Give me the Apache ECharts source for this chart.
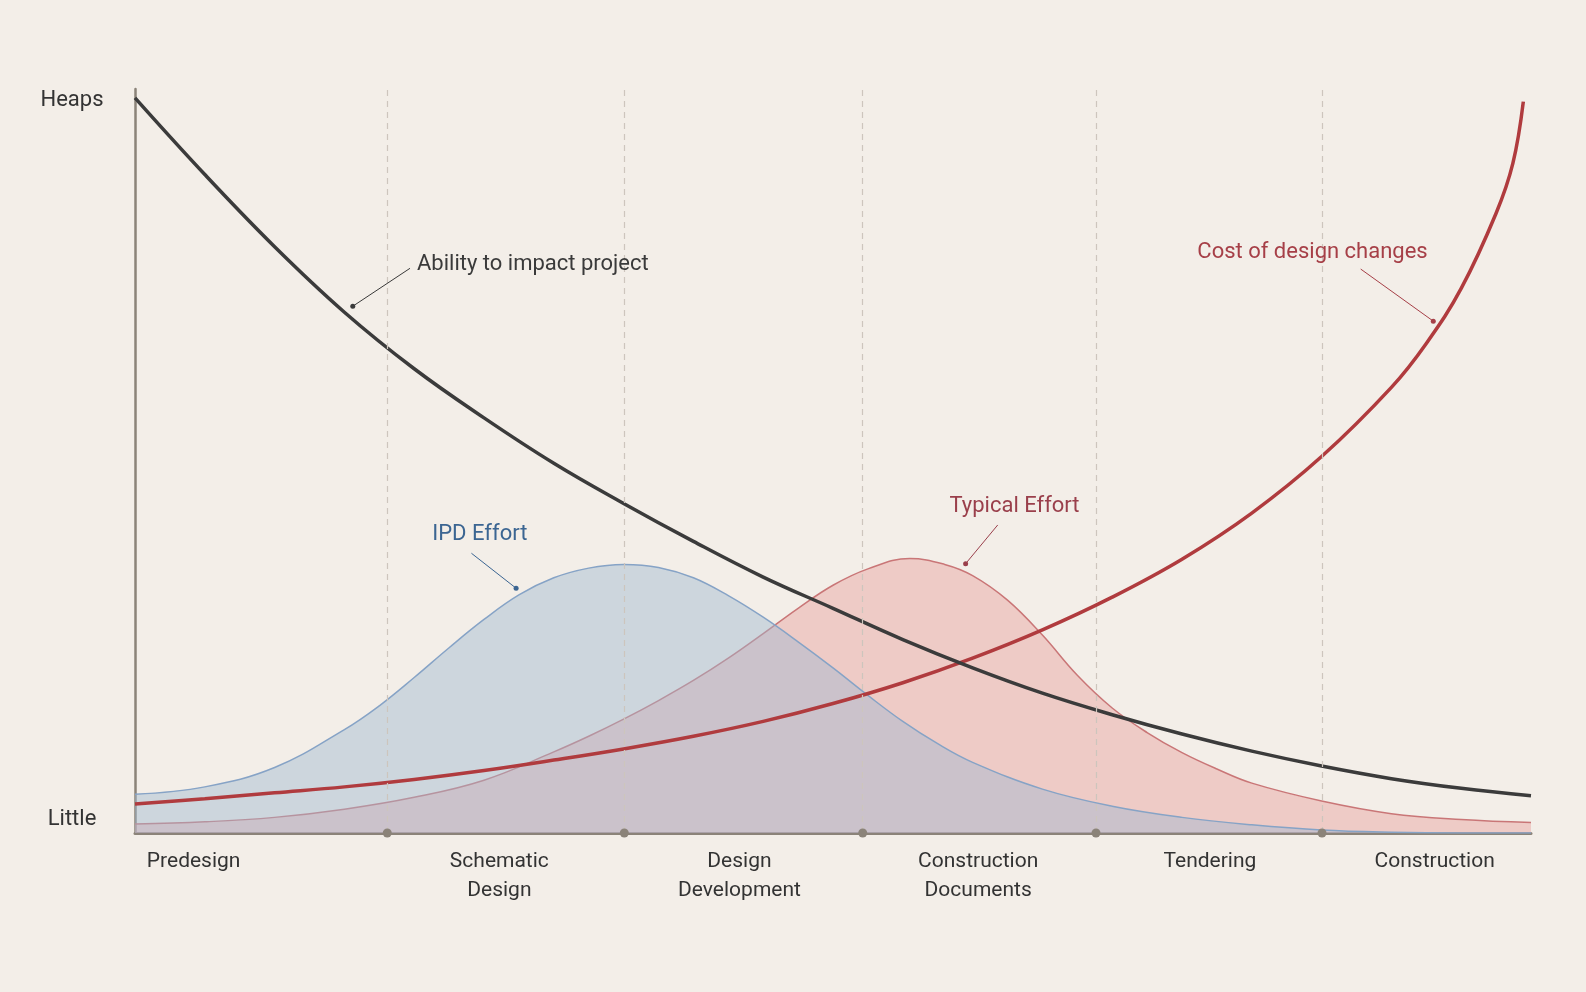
<!DOCTYPE html>
<html lang="en">
<head>
    <meta charset="UTF-8">
    <title>Ability to impact vs cost of change</title>
    <style>
        html, body { margin: 0; padding: 0; background: #f3eee8; }
        #main { width: 1586px; height: 992px; }
    </style>
</head>
<body>
<div id="main"></div>
<script src="https://cdn.jsdelivr.net/npm/echarts@6/dist/echarts.min.js"></script>
<script>
    // x runs 0..100 along the project timeline, y runs 0 (little) .. 100 (heaps)
    const phaseNames = ['Predesign', 'Schematic\nDesign', 'Design\nDevelopment', 'Construction\nDocuments', 'Tendering', 'Construction'];
    const phaseLabelAt = [4.2, 26.1, 43.3, 60.4, 77.0, 93.1];
    const phaseBounds = [18.07, 35.05, 52.13, 68.84, 85.03];
    const yTickValues = [1.8, 98.4];
    const yTickNames = ['Little', 'Heaps'];

    const ability = [[0, 98.8], [5, 88.5], [10, 78.8], [15, 70.0], [20, 62.4], [25, 55.8], [30, 49.7],
        [35, 44.3], [40, 39.2], [45, 34.4], [50, 30.2], [55, 26.0], [60, 22.2], [65, 18.8], [70, 15.9],
        [75, 13.3], [80, 11.0], [85, 9.0], [90, 7.3], [95, 6.0], [100, 5.0]];
    const cost = [[0, 3.9], [5, 4.6], [10, 5.4], [15, 6.2], [20, 7.2], [25, 8.4], [30, 9.8], [35, 11.3],
        [40, 13.0], [45, 15.0], [50, 17.4], [55, 20.2], [60, 23.5], [65, 27.3], [70, 31.7], [75, 36.8],
        [80, 43.0], [85, 50.6], [90, 59.9], [92.5, 65.8], [95, 73.2], [97.5, 83.3],
        [98.7, 90.0], [99.45, 98.3]];
    const ipd = [[0, 5.2], [5, 6.2], [10, 8.8], [15, 13.9], [17.5, 17.1], [20, 20.9], [22.5, 24.9],
        [25, 28.7], [27.5, 32.0], [30, 34.3], [32.5, 35.6], [35, 36.1], [37.5, 35.7], [40, 34.3],
        [42.5, 31.9], [45, 29.0], [47.5, 25.7], [50, 22.2], [52.5, 18.5], [55, 15.0], [57.5, 12.0],
        [60, 9.5], [65, 5.9], [70, 3.6], [75, 2.1], [80, 1.1], [85, 0.4], [90, 0.1], [95, 0], [100, 0]];
    const typical = [[0, 1.2], [5, 1.5], [10, 2.1], [15, 3.2], [20, 4.8], [25, 7.1], [30, 10.9],
        [32.5, 13.0], [35, 15.3], [37.5, 17.8], [40, 20.5], [42.5, 23.5], [45, 26.8], [47.5, 30.2],
        [50, 33.3], [52.5, 35.5], [55.5, 36.9], [58, 36.1], [60, 34.6], [62.5, 31.3], [65, 26.6],
        [67.5, 21.2], [70, 16.8], [72.5, 13.5], [75, 10.8], [77.5, 8.6], [80, 6.7], [85, 4.3],
        [90, 2.6], [95, 1.8], [100, 1.4]];

    // annotations: dot on the curve, end of the leader, text anchor
    const notes = ['Ability to impact project', 'Cost of design changes', 'IPD Effort', 'Typical Effort'];
    const noteDot = [[15.6, 70.8], [93.0, 68.8], [27.3, 32.9], [59.5, 36.2]];
    const noteTail = [[19.7, 75.9], [87.8, 75.8], [24.1, 37.6], [61.8, 41.4]];
    const noteText = [[20.2, 76.4], [84.35, 78.0], [24.7, 40.1], [63.0, 43.9]];

    const noteColors = ['#3a3a3a', '#a63f47', '#3b6592', '#9a3f4b'];
    const font = 'Roboto, "Noto Sans", sans-serif';
    const SMOOTH = 0.4;

    var chartDom = document.getElementById('main');
    var myChart = echarts.init(chartDom);
    var option;

    let series = [
        {
            name: 'Typical Effort',
            type: 'line',
            data: typical,
            smooth: SMOOTH,
            symbol: 'none',
            lineStyle: { color: '#c97677', width: 1.5 },
            areaStyle: { color: 'rgba(232,160,158,0.45)', opacity: 1 },
            markLine: {
                silent: true,
                symbol: 'none',
                label: { show: false },
                lineStyle: { color: '#cdc5bd', type: [6, 5], width: 1.2 },
                data: phaseBounds.map(v => ({ xAxis: v }))
            },
            z: 1
        },
        {
            name: 'IPD Effort',
            type: 'line',
            data: ipd,
            smooth: SMOOTH,
            symbol: 'none',
            lineStyle: { color: '#86a3c6', width: 1.5 },
            areaStyle: { color: 'rgba(160,183,208,0.45)', opacity: 1 },
            z: 2
        },
        {
            name: 'Cost of design changes',
            type: 'line',
            data: cost,
            smooth: SMOOTH,
            symbol: 'none',
            lineStyle: { color: '#b03b3e', width: 3.5 },
            z: 3
        },
        {
            name: 'Ability to impact project',
            type: 'line',
            data: ability,
            smooth: SMOOTH,
            symbol: 'none',
            lineStyle: { color: '#3b3b3b', width: 3.5 },
            z: 4
        },
        {
            name: 'phase ticks',
            type: 'scatter',
            data: phaseBounds.map(v => [v, 0]),
            symbolSize: 9,
            clip: false,
            itemStyle: { color: '#8b8379', opacity: 1 },
            z: 6
        }
    ];

    notes.forEach(function (txt, i) {
        series.push({
            type: 'line',
            data: [noteDot[i], noteTail[i]],
            symbol: 'none',
            lineStyle: { color: noteColors[i], width: 1 },
            z: 7
        });
        series.push({
            type: 'scatter',
            data: [noteDot[i]],
            symbolSize: 5,
            itemStyle: { color: noteColors[i], opacity: 1 },
            z: 8
        });
        series.push({
            type: 'scatter',
            data: [{
                value: noteText[i],
                label: {
                    show: true,
                    formatter: txt,
                    position: i === 0 ? 'right' : 'inside',
                    distance: 0,
                    color: noteColors[i],
                    fontSize: 22,
                    fontFamily: font
                }
            }],
            symbolSize: 0,
            itemStyle: { opacity: 1 },
            z: 8
        });
    });

    option = {
        animation: false,
        backgroundColor: '#f3eee8',
        grid: { left: 135, right: 55, top: 89, bottom: 159 },
        xAxis: {
            type: 'value',
            min: 0,
            max: 100,
            axisLine: { lineStyle: { color: '#8b8379', width: 3 } },
            axisTick: { show: false },
            splitLine: { show: false },
            axisLabel: {
                customValues: phaseLabelAt,
                formatter: function (v) {
                    let i = phaseLabelAt.indexOf(v);
                    return i >= 0 ? phaseNames[i] : '';
                },
                margin: 14,
                color: '#333333',
                fontSize: 21,
                lineHeight: 29,
                fontFamily: font
            }
        },
        yAxis: {
            type: 'value',
            min: 0,
            max: 100,
            axisLine: { show: true, lineStyle: { color: '#8b8379', width: 2.5 } },
            axisTick: { show: false },
            splitLine: { show: false },
            axisLabel: {
                customValues: yTickValues,
                formatter: function (v) {
                    let i = yTickValues.indexOf(v);
                    return i >= 0 ? yTickNames[i] : '';
                },
                align: 'center',
                margin: 63,
                color: '#333333',
                fontSize: 22,
                fontFamily: font
            }
        },
        series: series
    };

    option && myChart.setOption(option);
</script>
</body>
</html>
